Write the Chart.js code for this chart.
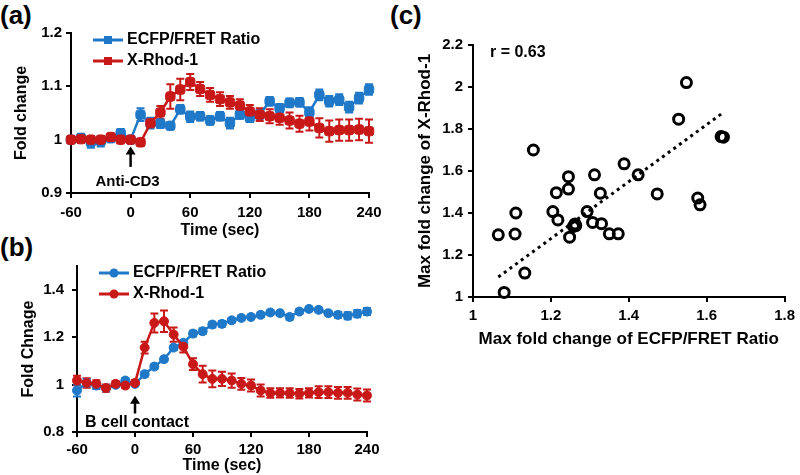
<!DOCTYPE html>
<html>
<head>
<meta charset="utf-8">
<script src="https://cdn.jsdelivr.net/npm/chart.js@4.4.0/dist/chart.umd.min.js"></script>
<style>
  body { margin: 0; background: #fff; width: 800px; height: 475px; overflow: hidden; position: relative;
         font-family: 'Liberation Sans', Arial, sans-serif; }
  canvas { position: absolute; }
  .lbl { position: absolute; font-weight: bold; font-size: 26px; line-height: 26px; }
</style>
</head>
<body>
<div class="lbl" style="left:0;top:2px">(a)</div>
<div class="lbl" style="left:0;top:234px">(b)</div>
<div class="lbl" style="left:390px;top:2px">(c)</div>
<canvas id="chartA" width="400" height="240" style="left:0;top:0"></canvas>
<canvas id="chartB" width="400" height="240" style="left:0;top:235px"></canvas>
<canvas id="chartC" width="400" height="360" style="left:400px;top:0"></canvas>
<script>
// time points (sec) shared by panels a and b
const timeSec = [-60, -50, -40, -30, -20, -10, 0, 10, 20, 30, 40, 50, 60, 70, 80, 90, 100,
                 110, 120, 130, 140, 150, 160, 170, 180, 190, 200, 210, 220, 230, 240];

// panel (a) - anti-CD3
const ratioA    = [1.00, 1.003, 0.995, 0.997, 1.003, 1.012, 1.00, 1.047, 1.031, 1.03, 1.026, 1.057, 1.043, 1.044, 1.036, 1.044,
                   1.031, 1.047, 1.041, 1.047, 1.072, 1.059, 1.069, 1.07, 1.051, 1.084, 1.072, 1.075, 1.061, 1.078, 1.094];
const ratioErrA = [0.006, 0.008, 0.01, 0.01, 0.008, 0.008, 0.006, 0.012, 0.01, 0.008, 0.006, 0.008, 0.01, 0.008, 0.008, 0.008,
                   0.01, 0.008, 0.008, 0.008, 0.008, 0.008, 0.008, 0.008, 0.01, 0.01, 0.01, 0.01, 0.01, 0.01, 0.01];
const rhodA     = [1.00, 1.001, 1.00, 1.00, 1.005, 1.00, 1.00, 0.995, 1.031, 1.051, 1.081, 1.094, 1.108, 1.095, 1.084, 1.076,
                   1.07, 1.064, 1.053, 1.047, 1.044, 1.041, 1.036, 1.03, 1.034, 1.022, 1.016, 1.018, 1.018, 1.019, 1.016];
const rhodErrA  = [0.005, 0.005, 0.005, 0.005, 0.005, 0.005, 0.005, 0.005, 0.008, 0.012, 0.023, 0.02, 0.015, 0.013, 0.013, 0.013,
                   0.012, 0.012, 0.012, 0.012, 0.013, 0.013, 0.015, 0.015, 0.017, 0.018, 0.02, 0.02, 0.02, 0.02, 0.022];
const xTicksA = [-60, 0, 60, 120, 180, 240];
const yTicksA = [0.9, 1, 1.1, 1.2];

// panel (b) - B cell contact
const ratioB    = [0.975, 1.007, 0.996, 0.985, 0.999, 1.017, 1.003, 1.044, 1.076, 1.107, 1.156, 1.176, 1.215, 1.225, 1.253, 1.256,
                   1.271, 1.281, 1.285, 1.294, 1.304, 1.301, 1.285, 1.308, 1.319, 1.315, 1.301, 1.294, 1.29, 1.299, 1.308];
const ratioErrB = [0.025, 0.015, 0.015, 0.012, 0.01, 0.01, 0.01, 0.01, 0.01, 0.01, 0.01, 0.01, 0.012, 0.012, 0.012, 0.012,
                   0.01, 0.01, 0.01, 0.01, 0.01, 0.01, 0.012, 0.01, 0.01, 0.01, 0.01, 0.012, 0.015, 0.015, 0.015];
const rhodB     = [1.017, 1.007, 1.003, 0.985, 1.003, 0.996, 1.007, 1.156, 1.26, 1.267, 1.211, 1.16, 1.086, 1.044, 1.024, 1.024,
                   1.017, 1.003, 0.996, 0.975, 0.964, 0.965, 0.964, 0.961, 0.965, 0.968, 0.968, 0.965, 0.965, 0.958, 0.954];
const rhodErrB  = [0.02, 0.02, 0.015, 0.015, 0.012, 0.012, 0.012, 0.025, 0.04, 0.045, 0.03, 0.025, 0.025, 0.035, 0.035, 0.03,
                   0.03, 0.025, 0.025, 0.025, 0.02, 0.02, 0.02, 0.02, 0.02, 0.025, 0.025, 0.025, 0.025, 0.025, 0.025];
const xTicksB = [-60, 0, 60, 120, 180, 240];
const yTicksB = [0.8, 1, 1.2, 1.4];

// panel (c) - max fold change per cell
const ecfpMax = [1.065, 1.08, 1.108, 1.11, 1.133, 1.155, 1.205, 1.214, 1.218, 1.245, 1.245, 1.248, 1.258, 1.261, 1.264, 1.262,
                 1.293, 1.307, 1.312, 1.327, 1.33, 1.35, 1.373, 1.388, 1.424, 1.473, 1.528, 1.548, 1.577, 1.583, 1.637, 1.643];
const rhodMax = [1.296, 1.022, 1.30, 1.40, 1.114, 1.70, 1.407, 1.497, 1.367, 1.573, 1.514, 1.285, 1.336, 1.344, 1.340, 1.348,
                 1.407, 1.355, 1.582, 1.494, 1.349, 1.301, 1.301, 1.634, 1.582, 1.491, 1.847, 2.021, 1.471, 1.439, 1.764, 1.761];
const trendX = [1.065, 1.64];
const trendY = [1.095, 1.875];
const xTicksC = [1, 1.2, 1.4, 1.6, 1.8];
const yTicksC = [1, 1.2, 1.4, 1.6, 1.8, 2, 2.2];

const FONT = "'Liberation Sans', Arial, sans-serif";
const BLUE = '#1f78c8';
const RED = '#c81818';

Chart.defaults.font.family = FONT;
Chart.defaults.color = '#000';
Chart.defaults.animation = false;
Chart.defaults.plugins.legend.display = false;
Chart.defaults.plugins.tooltip.enabled = false;

// error bars drawn under the lines
Chart.register({
  id: 'errorBars',
  beforeDatasetsDraw(chart) {
    const ctx = chart.ctx;
    chart.data.datasets.forEach((ds, di) => {
      if (!ds.errors) return;
      const meta = chart.getDatasetMeta(di);
      const ys = chart.scales[meta.yAxisID];
      ctx.save();
      ctx.strokeStyle = ds.borderColor;
      ctx.lineWidth = 2;
      meta.data.forEach((pt, i) => {
        const v = ds.data[i].y, e = ds.errors[i];
        const y1 = ys.getPixelForValue(v + e), y2 = ys.getPixelForValue(v - e);
        ctx.beginPath();
        ctx.moveTo(pt.x, y1); ctx.lineTo(pt.x, y2);
        ctx.moveTo(pt.x - 4, y1); ctx.lineTo(pt.x + 4, y1);
        ctx.moveTo(pt.x - 4, y2); ctx.lineTo(pt.x + 4, y2);
        ctx.stroke();
      });
      ctx.restore();
    });
  }
});

function linScale(o) {
  return {
    type: 'linear', min: o.min, max: o.max,
    afterBuildTicks: s => { s.ticks = o.ticks.map(v => ({ value: v })); },
    afterFit: s => {
      if (o.width) s.width = o.width;
      if (o.height) s.height = o.height;
    },
    ticks: {
      font: { size: 15, weight: 'bold' }, color: '#000', padding: o.tickPad,
      autoSkip: false, maxRotation: 0,
      callback: v => String(Math.round(v * 100) / 100)
    },
    grid: { drawOnChartArea: false, drawTicks: true, tickLength: 5, color: '#000', lineWidth: 2 },
    border: { color: '#000', width: 2 },
    title: { display: true, text: o.title, font: { size: o.titleSize || 16, weight: 'bold' }, color: '#000', padding: 0 }
  };
}

function series(label, ys, errs, color, style, radius) {
  return {
    label,
    data: timeSec.map((t, i) => ({ x: t, y: ys[i] })),
    errors: errs,
    borderColor: color, backgroundColor: color,
    pointBorderColor: color, pointBackgroundColor: color,
    borderWidth: 2.5, pointStyle: style, pointRadius: radius, pointBorderWidth: 1,
    tension: 0, clip: false
  };
}

function legendIn(items, style, radius) {
  return {
    id: 'legendIn',
    afterDatasetsDraw(chart) {
      const { ctx, chartArea: a } = chart;
      items.forEach((it, i) => {
        const y = a.top + 7 + i * 21;
        ctx.save();
        ctx.strokeStyle = it.color;
        ctx.fillStyle = it.color;
        ctx.lineWidth = 3;
        ctx.beginPath(); ctx.moveTo(a.left + 22, y); ctx.lineTo(a.left + 52, y); ctx.stroke();
        ctx.beginPath();
        if (style === 'circle') ctx.arc(a.left + 37, y, radius, 0, Math.PI * 2);
        else ctx.rect(a.left + 37 - radius, y - radius, radius * 2, radius * 2);
        ctx.fill();
        ctx.fillStyle = '#000';
        ctx.font = 'bold 16px ' + FONT;
        ctx.textBaseline = 'middle';
        ctx.fillText(it.text, a.left + 56, y);
        ctx.restore();
      });
    }
  };
}

function arrowNote(text, tipVal, tailVal, textVal, dx, size) {
  return {
    id: 'arrowNote',
    afterDraw(chart) {
      const ctx = chart.ctx, xs = chart.scales.x, ys = chart.scales.y;
      const x = xs.getPixelForValue(0);
      const yt = ys.getPixelForValue(tipVal), yb = ys.getPixelForValue(tailVal);
      ctx.save();
      ctx.strokeStyle = '#000'; ctx.fillStyle = '#000'; ctx.lineWidth = 2.5;
      ctx.beginPath(); ctx.moveTo(x, yb); ctx.lineTo(x, yt + 6); ctx.stroke();
      ctx.beginPath(); ctx.moveTo(x, yt); ctx.lineTo(x - 5, yt + 8); ctx.lineTo(x + 5, yt + 8); ctx.closePath(); ctx.fill();
      ctx.font = 'bold ' + size + 'px ' + FONT;
      ctx.textAlign = 'center'; ctx.textBaseline = 'middle';
      ctx.fillText(text, x + dx, ys.getPixelForValue(textVal));
      ctx.restore();
    }
  };
}

const legendItems = [{ text: 'ECFP/FRET Ratio', color: BLUE }, { text: 'X-Rhod-1', color: RED }];

// (a)
new Chart(document.getElementById('chartA'), {
  type: 'line',
  data: {
    datasets: [
      series('X-Rhod-1', rhodA, rhodErrA, RED, 'rectRounded', 5.5),
      series('ECFP/FRET Ratio', ratioA, ratioErrA, BLUE, 'rectRounded', 5.5)
    ]
  },
  options: {
    responsive: false,
    layout: { padding: { left: 12, right: 31, top: 33, bottom: 0 } },
    scales: {
      x: linScale({ min: -60, max: 240, ticks: xTicksA, title: 'Time (sec)', height: 47, tickPad: 6 }),
      y: linScale({ min: 0.9, max: 1.2, ticks: yTicksA, title: 'Fold change', width: 59, tickPad: 4 })
    }
  },
  plugins: [legendIn(legendItems, 'rect', 4), arrowNote('Anti-CD3', 0.987, 0.949, 0.921, -3, 15)]
});

// (b)
new Chart(document.getElementById('chartB'), {
  type: 'line',
  data: {
    datasets: [
      series('X-Rhod-1', rhodB, rhodErrB, RED, 'circle', 4.5),
      series('ECFP/FRET Ratio', ratioB, ratioErrB, BLUE, 'circle', 4.5)
    ]
  },
  options: {
    responsive: false,
    layout: { padding: { left: 19, right: 33, top: 31, bottom: 0 } },
    scales: {
      x: linScale({ min: -60, max: 240, ticks: xTicksB, title: 'Time (sec)', height: 43, tickPad: 4 }),
      y: linScale({ min: 0.8, max: 1.5, ticks: yTicksB, title: 'Fold Chnage', width: 58, tickPad: 8 })
    }
  },
  plugins: [legendIn(legendItems, 'circle', 4.5), arrowNote('B cell contact', 0.953, 0.878, 0.84, 2, 16)]
});

// (c)
new Chart(document.getElementById('chartC'), {
  type: 'scatter',
  data: {
    datasets: [
      {
        label: 'cells',
        data: ecfpMax.map((v, i) => ({ x: v, y: rhodMax[i] })),
        pointStyle: 'circle', pointRadius: 5, pointBorderWidth: 3,
        pointBorderColor: '#000', pointBackgroundColor: 'rgba(0,0,0,0)', clip: false
      },
      {
        type: 'line',
        label: 'fit',
        data: trendX.map((v, i) => ({ x: v, y: trendY[i] })),
        borderColor: '#000', borderWidth: 3, borderDash: [3, 4], pointRadius: 0
      }
    ]
  },
  options: {
    responsive: false,
    layout: { padding: { left: 15, right: 13, top: 45, bottom: 10 } },
    scales: {
      x: linScale({ min: 1, max: 1.8, ticks: xTicksC, title: 'Max fold change of ECFP/FRET Ratio', titleSize: 17, height: 53, tickPad: 5 }),
      y: linScale({ min: 1, max: 2.2, ticks: yTicksC, title: 'Max fold change of X-Rhod-1', titleSize: 17, width: 58, tickPad: 5 })
    }
  },
  plugins: [{
    id: 'rLabel',
    afterDraw(chart) {
      const { ctx, chartArea: a } = chart;
      ctx.save();
      ctx.font = 'bold 16px ' + FONT;
      ctx.fillStyle = '#000';
      ctx.textBaseline = 'middle';
      ctx.fillText('r = 0.63', a.left + 17, a.top + 8);
      ctx.restore();
    }
  }]
});
</script>
</body>
</html>
